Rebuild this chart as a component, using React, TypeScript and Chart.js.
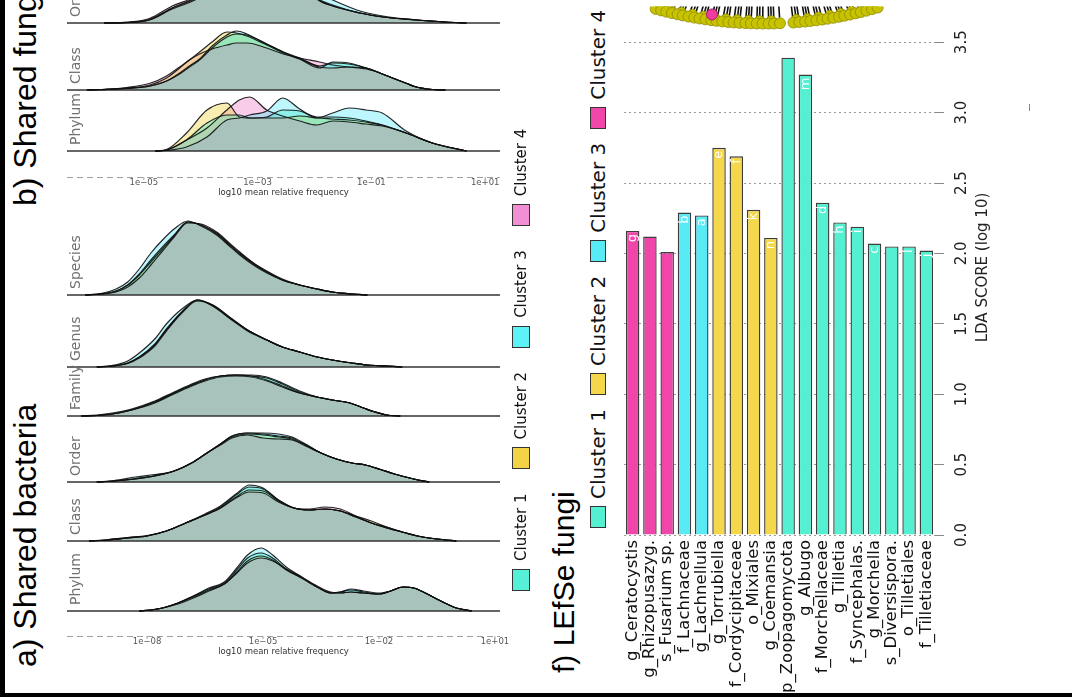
import React, { useEffect, useRef } from "react";
import { Chart, registerables } from "chart.js";

Chart.register(...registerables);

// ================= DATA =================
const clusterNames = ["Cluster 1", "Cluster 2", "Cluster 3", "Cluster 4"];
const clusterColors = ["#55f0d2", "#f5d74b", "#58eaf5", "#f046aa"];
const bactLegendColors = ["#56f0d8", "#f2d346", "#5cf2f7", "#f28fd4"];
const ridgeFillColors = [
  "rgba(64,230,200,0.38)",
  "rgba(240,210,60,0.40)",
  "rgba(90,235,250,0.40)",
  "rgba(240,120,200,0.38)",
];

// ---- f) LEfSe fungi ----
const lefseTaxa = [
  "g_Ceratocystis", "g_Rhizopusazyg.", "s_Fusarium sp.", "f_Lachnaceae", "g_Lachnellula",
  "g_Torrubiella", "f_Cordycipitaceae", "o_Mixiales", "g_Coemansia", "p_Zoopagomycota",
  "g_Albugo", "f_Morchellaceae", "g_Tilletia", "f_Syncephalas.", "g_Morchella",
  "s_Diversispora.", "o_Tilletiales", "f_Tilletiaceae",
];
const lefseScores = [2.16, 2.12, 2.01, 2.29, 2.27, 2.75, 2.69, 2.31, 2.11, 3.39, 3.27, 2.36, 2.22, 2.19, 2.07, 2.05, 2.05, 2.02];
const lefseCluster = [4, 4, 4, 3, 3, 2, 2, 2, 2, 1, 1, 1, 1, 1, 1, 1, 1, 1];
const lefseLetters = ["g", "", "", "b", "a", "e", "f", "k", "n", "", "m", "d", "h", "i", "c", "", "l", "j"];
const ldaTicks = [0, 0.5, 1, 1.5, 2, 2.5, 3, 3.5];
const ldaTickLabels = ["0.0", "0.5", "1.0", "1.5", "2.0", "2.5", "3.0", "3.5"];

// ---- cladogram fragment (leaf angles, degrees) ----
const leafAngles = [-20.6, -19.5, -18.5, -17.4, -16.3, -15.3, -14.2, -13.1, -12.1, -11.0, -9.9, -8.9, -7.8, -6.7, -5.7, -4.6, -3.5, -2.5, -1.4, -0.3, 0.8, 1.8, 2.9, 5.4, 6.5, 7.6, 8.6, 9.7, 10.8, 11.8, 12.9, 14.0, 15.0, 16.1, 17.2, 18.2, 19.3, 20.4, 21.5];
const innerAngles = [-20.0, -17.9, -15.8, -13.6, -11.5, -9.4, -7.2, -5.1, -3.0, -0.9, 1.3, 6.0, 8.1, 10.2, 12.4, 14.5, 16.6, 18.7, 20.9];
const cladeMarkAngles = [-10.0];

// ---- a) Shared bacteria : ridge densities (x = log10 frequency) ----
const bactRowLabels = ["Species", "Genus", "Family", "Order", "Class", "Phylum"];
const bactTicks = [-8, -5, -2, 1];
const bactTickLabels = ["1e\u221208", "1e\u221205", "1e\u221202", "1e+01"];

const spX = [-9.6, -9.2, -8.8, -8.5, -8.2, -7.9, -7.6, -7.3, -6.95, -6.6, -6.2, -5.9, -5.6, -5.25, -4.9, -4.5, -4.05, -3.6, -3.2, -2.7, -2.3];
const sp1 = [0, 1, 4, 10, 21, 35, 48, 60, 73, 70, 61, 51, 41, 31, 23, 15, 10, 6, 3, 1, 0];
const sp2 = [0, 1, 4, 10, 20, 33, 46, 59, 73, 70, 62, 52, 42, 32, 23, 15, 10, 6, 3, 1, 0];
const sp3 = [0, 1.5, 6, 13, 26, 42, 55, 66, 74, 69, 60, 50, 40, 30, 22, 15, 10, 6, 3, 1, 0];
const sp4 = [0, 1, 3, 8, 17, 30, 44, 58, 72, 71, 63, 53, 43, 32, 24, 16, 10, 6, 3, 1, 0];

const geX = [-9.3, -8.9, -8.5, -8.2, -7.8, -7.5, -7.1, -6.7, -6.3, -5.8, -5.4, -4.9, -4.5, -4.05, -3.6, -3.2, -2.7, -2.3, -1.8, -1.4];
const ge1 = [0, 1, 4, 10, 23, 38, 55, 67, 61, 47, 37, 27, 20, 15, 10, 7, 4, 2, 1, 0];
const ge2 = [0, 1, 4, 10, 22, 37, 55, 67, 62, 48, 37, 27, 20, 15, 10, 7, 4, 2, 1, 0];
const ge3 = [0, 1.5, 6, 14, 28, 43, 58, 67, 61, 47, 36, 27, 20, 15, 10, 7, 4, 2, 1, 0];
const ge4 = [0, 1, 3.5, 9, 21, 36, 54, 66, 62, 48, 37, 27, 20, 15, 10, 7, 4, 2, 1, 0];

const faX = [-9.7, -9.3, -8.9, -8.4, -7.8, -7.3, -6.9, -6.5, -6.1, -5.7, -5.3, -4.9, -4.5, -4.05, -3.6, -3.2, -2.75, -2.4, -2.1, -1.8, -1.45];
const fa1 = [0, 0.5, 2, 6, 14, 23, 30, 36, 40, 41, 40, 38, 32, 24, 19, 16, 13, 8, 4, 1, 0];
const fa2 = [0, 0.5, 2, 6, 14, 23, 30, 36, 40, 41, 40, 36, 30, 23, 19, 16, 13, 8, 4, 1, 0];
const fa3 = [0, 1, 3, 7, 15, 24, 31, 37, 40, 41, 41, 39, 33, 25, 19, 16, 13, 8, 4, 1, 0];
const fa4 = [0, 0.5, 2, 6, 13, 22, 29, 35, 39, 40, 39, 35, 29, 23, 19, 16, 13, 8, 4, 1, 0];

const orX = [-9.3, -8.85, -8.3, -7.8, -7.3, -6.8, -6.45, -6.1, -5.8, -5.4, -5.0, -4.6, -4.25, -3.9, -3.5, -3.1, -2.7, -2.35, -2.0, -1.6, -1.1, -0.7];
const or1 = [0, 1, 3.5, 6.5, 11, 20, 29, 38, 46, 49, 48, 46, 44, 37, 29, 23, 19, 17, 13, 8, 3, 0];
const or2 = [0, 1, 3, 6, 11, 20, 29, 38, 45, 48, 47, 45, 43, 37, 29, 23, 19, 17, 13, 8, 3, 0];
const or3 = [0, 1.5, 5, 7.5, 11, 20, 29, 38, 46, 49, 49, 48, 45, 38, 29, 23, 19, 17, 13, 8, 3, 0];
const or4 = [0, 1, 3, 6, 11, 20, 29, 37, 44, 47, 44, 43, 42, 36, 29, 23, 19, 17, 13, 8, 3, 0];

const clX = [-9.5, -9.0, -8.5, -8.0, -7.5, -7.0, -6.5, -6.1, -5.7, -5.35, -5.0, -4.6, -4.2, -3.8, -3.4, -3.0, -2.6, -2.2, -1.8, -1.4, -1.0, -0.5, 0.0];
const cl1 = [0, 1, 3, 5, 10, 18, 26, 34, 46, 54, 52, 41, 33, 31, 32, 30, 24, 18, 13, 9, 5, 2, 0];
const cl2 = [0, 1, 3, 5, 10, 18, 26, 33, 44, 51, 50, 40, 33, 31, 32, 30, 25, 20, 14, 9, 5, 2, 0];
const cl3 = [0, 1.5, 3.5, 5.5, 10, 18, 27, 35, 47, 56, 53, 41, 33, 31, 32, 30, 24, 18, 13, 9, 5, 2, 0];
const cl4 = [0, 1, 3, 5, 10, 18, 26, 33, 43, 49, 48, 39, 33, 32, 34, 32, 25, 18, 14, 9, 5, 2, 0];

const phX = [-8.2, -7.9, -7.6, -7.2, -6.8, -6.4, -6.0, -5.7, -5.4, -5.05, -4.75, -4.4, -4.0, -3.6, -3.25, -3.0, -2.73, -2.4, -2.0, -1.7, -1.38, -1.1, -0.8, -0.4, 0.0, 0.4];
const ph1 = [0, 1, 3, 8, 15, 22, 28, 40, 53, 58, 53, 42, 33, 24, 18, 19, 21, 19, 17, 20, 24, 23, 18, 10, 3, 0];
const ph2 = [0, 1, 3, 8, 14, 21, 27, 38, 50, 55, 51, 41, 33, 24, 18, 18, 19, 18, 17, 20, 24, 23, 18, 10, 3, 0];
const ph3 = [0, 1, 3, 8, 15, 23, 29, 42, 56, 63, 56, 44, 34, 24, 18, 19, 22, 20, 18, 20, 24, 23, 18, 10, 3, 0];
const ph4 = [0, 1, 3, 7, 13, 20, 27, 37, 48, 53, 50, 42, 34, 25, 19, 18, 19, 18, 17, 20, 24, 23, 18, 10, 3, 0];

// ---- b) Shared fungi : ridge densities ----
const fungiRowLabels = ["Order", "Class", "Phylum"];
const fungiTicks = [-5, -3, -1, 1];
const fungiTickLabels = ["1e\u221205", "1e\u221203", "1e\u221201", "1e+01"];

const foX = [-5.7, -5.3, -4.9, -4.5, -4.14, -3.8, -3.3, -2.8, -2.3, -1.96, -1.68, -1.2, -0.8, -0.21, 0.3, 0.67];
const fo1 = [0, 0.5, 3.3, 15, 23, 34, 50, 56, 45, 25, 18, 10, 6, 3, 1, 0];
const fo2 = [0, 0.5, 3.5, 15, 24, 35, 52, 55, 44, 24, 17, 10, 6, 3, 1, 0];
const fo3 = [0, 0.3, 3, 14, 22, 33, 48, 57, 50, 30, 23, 12, 7, 3, 1, 0];
const fo4 = [0, 0.8, 4.5, 17, 25, 36, 52, 54, 44, 24, 17, 10, 6, 3, 1, 0];

const fcX = [-6.0, -5.77, -5.3, -4.89, -4.6, -4.37, -4.2, -4.02, -3.8, -3.54, -3.37, -3.19, -2.84, -2.55, -2.26, -1.91, -1.68, -1.4, -1.09, -0.85, -0.63, -0.4, -0.21, 0.07, 0.3];
const fc1 = [0, 0.3, 1.5, 4, 9, 16, 23, 30, 42, 53, 56, 55, 46, 38, 31, 22, 28, 27, 22, 17, 12, 7, 3, 0.5, 0];
const fc2 = [0, 0.5, 2, 5, 12, 22, 30, 38, 48, 58, 57, 54, 45, 37, 31, 23, 22, 23, 22, 17, 12, 7, 3, 0.5, 0];
const fc3 = [0, 0.3, 1.5, 4, 9, 17, 24, 31, 44, 55, 59, 56, 46, 38, 32, 24, 27, 26, 22, 17, 12, 7, 3, 0.5, 0];
const fc4 = [0, 0.5, 2.5, 6.7, 14, 23, 30, 36, 41, 45, 47, 47, 42, 36, 32, 28, 25, 23, 21, 17, 12, 7, 3, 0.5, 0];

const fpX = [-4.8, -4.6, -4.25, -3.89, -3.54, -3.32, -3.14, -2.84, -2.56, -2.26, -1.96, -1.68, -1.39, -1.1, -0.81, -0.39, 0.07, 0.67];
const fp1 = [0, 1, 11, 28, 36, 36, 33, 34, 41, 40, 34, 34, 33, 30, 26, 18, 8, 0];
const fp2 = [0, 1.5, 18, 41, 48, 34, 33, 33, 33, 35, 33, 32, 31, 29, 26, 18, 8, 0];
const fp3 = [0, 0.5, 4, 14, 31, 33, 36, 40, 53, 42, 33, 38, 43, 41, 38, 20, 8, 0];
const fp4 = [0, 1, 11, 23, 41, 51, 54, 41, 35, 30, 26, 30, 29, 27, 25, 18, 8, 0];

// ================= LAYOUT (not data) =================
const BACT_BASES = [341, 269, 220, 154, 95, 25];
const FUNGI_BASES = [154, 87, 26];
const ENVELOPE_COLOR = "#a8c3bc";
const CLAD = { cx: 165, cy: -299, r: 323 };

type Row = { x: number[]; c: number[][] };

const bactRows: Row[] = [
  { x: spX, c: [sp1, sp2, sp3, sp4] },
  { x: geX, c: [ge1, ge2, ge3, ge4] },
  { x: faX, c: [fa1, fa2, fa3, fa4] },
  { x: orX, c: [or1, or2, or3, or4] },
  { x: clX, c: [cl1, cl2, cl3, cl4] },
  { x: phX, c: [ph1, ph2, ph3, ph4] },
];
const fungiRows: Row[] = [
  { x: foX, c: [fo1, fo2, fo3, fo4] },
  { x: fcX, c: [fc1, fc2, fc3, fc4] },
  { x: fpX, c: [fp1, fp2, fp3, fp4] },
];

function buildRidgeDatasets(rows: Row[], bases: number[], xMin: number, xMax: number) {
  const env: any[] = [];
  const curves: any[] = [];
  const baselines: any[] = [];
  rows.forEach((row, r) => {
    const b = bases[r];
    const minH = row.x.map((_, i) => Math.min(...row.c.map((s) => s[i])));
    env.push({
      data: row.x.map((x, i) => ({ x, y: b + minH[i] })),
      fill: { value: b },
      backgroundColor: ENVELOPE_COLOR,
      borderWidth: 0,
      borderColor: "rgba(0,0,0,0)",
      pointRadius: 0,
      cubicInterpolationMode: "monotone",
    });
    row.c.forEach((s, k) => {
      curves.push({
        data: row.x.map((x, i) => ({ x, y: b + s[i] })),
        fill: { value: b },
        backgroundColor: ridgeFillColors[k],
        borderColor: "rgba(15,15,15,0.9)",
        borderWidth: 1.2,
        pointRadius: 0,
        cubicInterpolationMode: "monotone",
      });
    });
    baselines.push({
      data: [{ x: xMin, y: b }, { x: xMax, y: b }],
      borderColor: "#333",
      borderWidth: 1.6,
      pointRadius: 0,
      fill: false,
    });
  });
  return [...env, ...curves, ...baselines];
}

function ridgeAxisPlugin(ticks: number[], labels: string[], rowLabels: string[], bases: number[], rowLabelX: number) {
  return {
    id: "ridgeAxis",
    afterDraw(chart: any) {
      const { ctx, chartArea, scales } = chart;
      const xs = scales.x;
      const ys = scales.y;
      ctx.save();
      ctx.strokeStyle = "#a0a0a0";
      ctx.lineWidth = 1;
      ctx.setLineDash([6, 4]);
      ctx.beginPath();
      ctx.moveTo(chartArea.left, chartArea.bottom + 0.5);
      ctx.lineTo(chartArea.right, chartArea.bottom + 0.5);
      ctx.stroke();
      ctx.setLineDash([]);
      ctx.fillStyle = "#555";
      ctx.font = '8.5px "DejaVu Sans"';
      ctx.textAlign = "center";
      ctx.textBaseline = "top";
      ticks.forEach((t, i) => {
        const px = xs.getPixelForValue(t);
        ctx.beginPath();
        ctx.moveTo(px, chartArea.bottom);
        ctx.lineTo(px, chartArea.bottom + 3);
        ctx.stroke();
        ctx.fillText(labels[i], px, chartArea.bottom + 2);
      });
      ctx.fillStyle = "#333";
      ctx.fillText("log10 mean relative frequency", (chartArea.left + chartArea.right) / 2, chartArea.bottom + 12);
      ctx.font = '14px "DejaVu Sans"';
      ctx.fillStyle = "#707070";
      rowLabels.forEach((lab, r) => {
        const py = ys.getPixelForValue(bases[r]) - 6;
        ctx.save();
        ctx.translate(rowLabelX, py);
        ctx.rotate(-Math.PI / 2);
        ctx.textAlign = "left";
        ctx.textBaseline = "middle";
        ctx.fillText(lab, 0, 0);
        ctx.restore();
      });
      ctx.restore();
    },
  };
}

function makeRidge(canvas: HTMLCanvasElement, rows: Row[], bases: number[], xMin: number, xMax: number, yMax: number, padding: any, ticks: number[], tickLabels: string[], rowLabels: string[]) {
  return new Chart(canvas, {
    type: "line",
    data: { datasets: buildRidgeDatasets(rows, bases, xMin, xMax) as any },
    options: {
      animation: false,
      responsive: false,
      maintainAspectRatio: false,
      layout: { padding },
      plugins: {
        legend: { display: false },
        tooltip: { enabled: false },
        filler: { drawTime: "beforeDatasetsDraw", propagate: false } as any,
      },
      scales: {
        x: { type: "linear", min: xMin, max: xMax, display: false },
        y: { type: "linear", min: 0, max: yMax, display: false },
      },
    } as any,
    plugins: [ridgeAxisPlugin(ticks, tickLabels, rowLabels, bases, 16)],
  });
}

const barTextPlugin = {
  id: "barText",
  afterDraw(chart: any) {
    const { ctx, chartArea, scales } = chart;
    const meta = chart.getDatasetMeta(0);
    ctx.save();
    ctx.fillStyle = "#ffffff";
    ctx.font = '13px "DejaVu Sans"';
    meta.data.forEach((bar: any, i: number) => {
      const letter = lefseLetters[i];
      if (!letter) return;
      ctx.save();
      ctx.translate(bar.x, bar.y + 3);
      ctx.rotate(-Math.PI / 2);
      ctx.textAlign = "right";
      ctx.textBaseline = "middle";
      ctx.fillText(letter, 0, 0);
      ctx.restore();
    });
    ctx.fillStyle = "#222";
    ctx.font = '15px "DejaVu Sans"';
    ldaTicks.forEach((v, i) => {
      const py = scales.y.getPixelForValue(v);
      ctx.save();
      ctx.translate(chartArea.right + 27, py);
      ctx.rotate(-Math.PI / 2);
      ctx.textAlign = "center";
      ctx.textBaseline = "middle";
      ctx.fillText(ldaTickLabels[i], 0, 0);
      ctx.restore();
    });
    ctx.save();
    ctx.translate(chartArea.right + 48, (chartArea.top + chartArea.bottom) / 2);
    ctx.rotate(-Math.PI / 2);
    ctx.textAlign = "center";
    ctx.textBaseline = "middle";
    ctx.fillText("LDA SCORE (log 10)", 0, 0);
    ctx.restore();
    ctx.restore();
  },
};

function polar(angleDeg: number, radius: number) {
  const a = (angleDeg * Math.PI) / 180;
  return { x: CLAD.cx + radius * Math.sin(a), y: CLAD.cy + radius * Math.cos(a) };
}

function VText(props: any) {
  const { x, y, size, family, color, children } = props;
  return (
    <div
      style={{
        position: "absolute",
        left: x,
        top: y,
        transformOrigin: "0 0",
        transform: "rotate(-90deg)",
        whiteSpace: "nowrap",
        fontSize: size,
        lineHeight: `${size}px`,
        fontFamily: family,
        color: color || "#000",
      }}
    >
      {children}
    </div>
  );
}

function VLegend(props: any) {
  const { x, y, colors, size, boxW, boxH, gapIn, gapOut } = props;
  return (
    <div
      style={{
        position: "absolute",
        left: x,
        top: y,
        transformOrigin: "0 0",
        transform: "rotate(-90deg)",
        display: "flex",
        alignItems: "center",
        whiteSpace: "nowrap",
        height: boxH,
        fontFamily: '"DejaVu Sans", sans-serif',
        color: "#111",
      }}
    >
      {clusterNames.map((l, i) => (
        <div key={i} style={{ display: "flex", alignItems: "center", marginRight: i < 3 ? gapOut : 0 }}>
          <div style={{ width: boxW, height: boxH, background: colors[i], border: "1px solid #333", boxSizing: "border-box" }} />
          <span style={{ marginLeft: gapIn, fontSize: size, lineHeight: `${boxH}px` }}>{l}</span>
        </div>
      ))}
    </div>
  );
}

export default function App() {
  const bactRef = useRef<HTMLCanvasElement>(null);
  const fungiRef = useRef<HTMLCanvasElement>(null);
  const barRef = useRef<HTMLCanvasElement>(null);
  const cladRef = useRef<HTMLCanvasElement>(null);

  useEffect(() => {
    const charts: Chart[] = [];
    if (bactRef.current) {
      charts.push(
        makeRidge(bactRef.current, bactRows, BACT_BASES, -10.07, 1.13, 426, { left: 7, right: 30, top: 0, bottom: 24 }, bactTicks, bactTickLabels, bactRowLabels)
      );
    }
    if (fungiRef.current) {
      charts.push(
        makeRidge(fungiRef.current, fungiRows, FUNGI_BASES, -6.35, 1.26, 277, { left: 7, right: 30, top: 0, bottom: 23 }, fungiTicks, fungiTickLabels, fungiRowLabels)
      );
    }
    if (barRef.current) {
      charts.push(
        new Chart(barRef.current, {
          type: "bar",
          data: {
            labels: lefseTaxa,
            datasets: [
              {
                data: lefseScores,
                backgroundColor: lefseCluster.map((c) => clusterColors[c - 1]),
                borderColor: "#3d3d3d",
                borderWidth: 1.4,
                categoryPercentage: 1,
                barPercentage: 0.78,
              },
            ],
          },
          options: {
            animation: false,
            responsive: false,
            maintainAspectRatio: false,
            layout: { padding: { left: 24, right: 127, top: 0, bottom: 0 } },
            plugins: { legend: { display: false }, tooltip: { enabled: false } },
            scales: {
              x: {
                ticks: {
                  autoSkip: false,
                  minRotation: 90,
                  maxRotation: 90,
                  font: { family: "'DejaVu Sans'", size: 16.5 },
                  color: "#111",
                  padding: 5,
                },
                grid: { display: false, drawTicks: false },
                border: { display: false },
                afterFit: (a: any) => {
                  a.height = 162;
                },
              },
              y: {
                position: "right",
                min: 0,
                max: 3.8,
                ticks: { display: false },
                afterBuildTicks: (a: any) => {
                  a.ticks = ldaTicks.map((v) => ({ value: v }));
                },
                grid: { color: "#9a9a9a", lineWidth: 1, tickLength: 9, tickColor: "#888" },
                border: { display: false, dash: [2, 3] },
                afterFit: (a: any) => {
                  a.width = 10;
                },
              },
            },
          } as any,
          plugins: [barTextPlugin],
        })
      );
    }
    if (cladRef.current) {
      const lines: any[] = [];
      [...leafAngles, ...innerAngles].forEach((a) => {
        lines.push(polar(a, CLAD.r - 8));
        lines.push(polar(a, CLAD.r - 70));
        lines.push({ x: null, y: null });
      });
      charts.push(
        new Chart(cladRef.current, {
          type: "scatter",
          data: {
            datasets: [
              {
                data: cladeMarkAngles.map((a) => polar(a, CLAD.r - 8)),
                pointRadius: 5.5,
                backgroundColor: "#f03ca0",
                borderColor: "#a0206a",
                borderWidth: 1,
              },
              {
                data: leafAngles.map((a) => polar(a, CLAD.r)),
                pointRadius: 5.5,
                backgroundColor: "#c8c300",
                borderColor: "#8f8a00",
                borderWidth: 0.8,
              },
              {
                data: innerAngles.map((a) => polar(a, CLAD.r - 4)),
                pointRadius: 5,
                backgroundColor: "#c8c300",
                borderColor: "#8f8a00",
                borderWidth: 0.8,
              },
              {
                type: "line",
                data: lines,
                showLine: true,
                spanGaps: false,
                borderColor: "#111",
                borderWidth: 1.6,
                pointRadius: 0,
              } as any,
            ],
          },
          options: {
            animation: false,
            responsive: false,
            maintainAspectRatio: false,
            layout: { padding: 0 },
            plugins: { legend: { display: false }, tooltip: { enabled: false } },
            scales: {
              x: { type: "linear", min: 0, max: 300, display: false },
              y: { type: "linear", min: 0, max: 45, reverse: true, display: false },
            },
          } as any,
        })
      );
    }
    return () => charts.forEach((c) => c.destroy());
  }, []);

  return (
    <div
      style={{
        position: "fixed",
        left: 0,
        top: 0,
        width: 1072,
        height: 697,
        overflow: "hidden",
        background: "#ffffff",
        fontFamily: '"DejaVu Sans", sans-serif',
      }}
    >
      <canvas ref={fungiRef} width={470} height={300} style={{ position: "absolute", left: 60, top: -100, width: 470, height: 300 }} />
      <canvas ref={bactRef} width={470} height={450} style={{ position: "absolute", left: 60, top: 210, width: 470, height: 450 }} />

      <VText x={9} y={667} size={32} family='"Liberation Sans", Arial, sans-serif'>a) Shared bacteria</VText>
      <VText x={9} y={206} size={32} family='"Liberation Sans", Arial, sans-serif'>b) Shared fungi</VText>
      <VLegend x={512} y={591} colors={bactLegendColors} size={15} boxW={22} boxH={18} gapIn={8} gapOut={24} />

      <VText x={549} y={673} size={30} family='"Liberation Sans", Arial, sans-serif'>f) LEfSe fungi</VText>
      <VLegend x={590} y={528} colors={clusterColors} size={20} boxW={22} boxH={16} gapIn={7} gapOut={14} />

      <canvas ref={barRef} width={472} height={697} style={{ position: "absolute", left: 600, top: 0, width: 472, height: 697 }} />
      <canvas ref={cladRef} width={300} height={45} style={{ position: "absolute", left: 600, top: 0, width: 300, height: 45 }} />

      <div style={{ position: "absolute", left: 1029, top: 104, width: 1, height: 7, background: "#888" }} />
      <div style={{ position: "absolute", left: 0, top: 0, width: 5, height: 697, background: "#000" }} />
      <div style={{ position: "absolute", left: 0, top: 693, width: 1072, height: 4, background: "#000" }} />
    </div>
  );
}
